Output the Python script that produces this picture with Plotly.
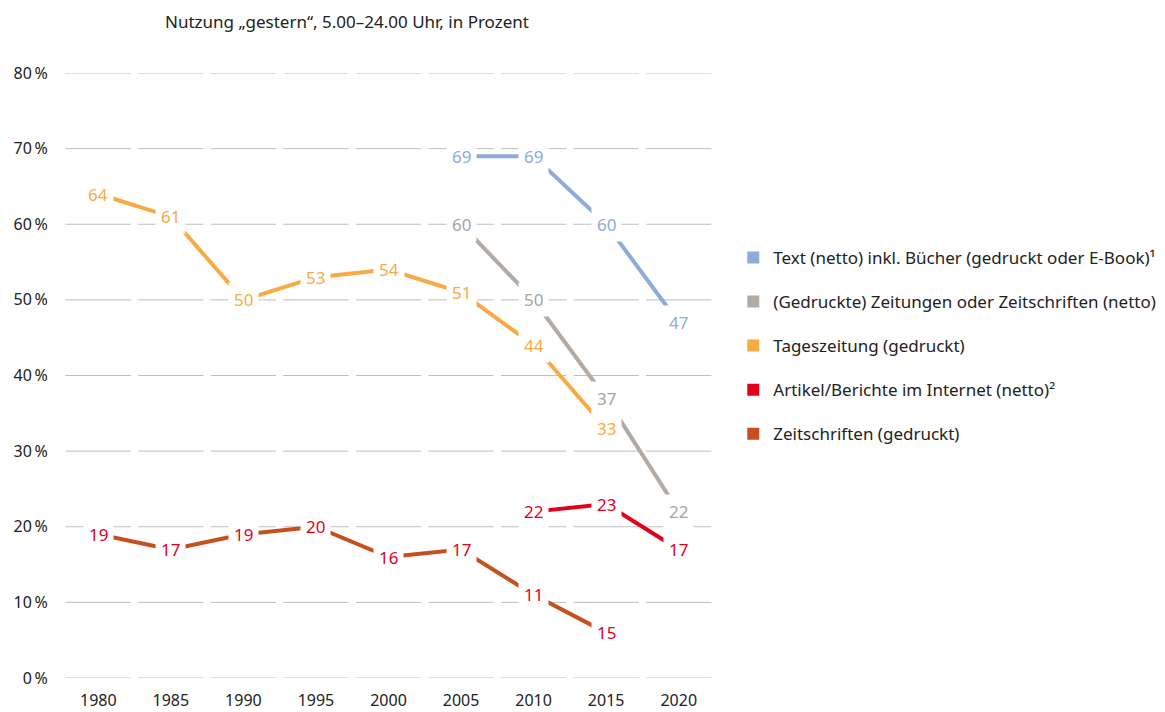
import plotly.graph_objects as go

years = ["1980", "1985", "1990", "1995", "2000", "2005", "2010", "2015", "2020"]

text_netto = [None, None, None, None, None, 69, 69, 60, 47]
zeitungen_netto = [None, None, None, None, None, 60, 50, 37, 22]
tageszeitung = [64, 61, 50, 53, 54, 51, 44, 33, None]
artikel_internet = [None, None, None, None, None, None, 22, 23, 17]
zeitschriften = [19, 17, 19, 20, 16, 17, 11, 6, None]
# printed labels (the last Zeitschriften label reads 15 in the original)
zeitschriften_labels = ["19", "17", "19", "20", "16", "17", "11", "15", None]

y_ticks = [0, 10, 20, 30, 40, 50, 60, 70, 80]

series = [
    ("Text (netto) inkl. Bücher (gedruckt oder E-Book)¹", text_netto, None, "#8DACDA", "#8DACDA"),
    ("(Gedruckte) Zeitungen oder Zeitschriften (netto)", zeitungen_netto, None, "#B3AAA3", "#A4A4A4"),
    ("Tageszeitung (gedruckt)", tageszeitung, None, "#F7AA45", "#F7AA45"),
    ("Artikel/Berichte im Internet (netto)²", artikel_internet, None, "#E2001A", "#E2001A"),
    ("Zeitschriften (gedruckt)", zeitschriften, zeitschriften_labels, "#C64F1E", "#E2001A"),
]

FONT = "Noto Sans"
W, H = 1157, 704  # page body keeps an 8px margin
fig = go.Figure()
xs = list(range(len(years)))

for name, vals, labels, color, lcolor in series:
    fig.add_trace(go.Scatter(x=xs, y=vals, mode="lines", showlegend=False,
                             line=dict(color=color, width=4), hoverinfo="skip"))
    fig.add_trace(go.Scatter(x=[None], y=[None], mode="markers", name=name,
                             legendgroup=name,
                             marker=dict(symbol="square", size=16, color=color)))
    for i, v in enumerate(vals):
        if v is None:
            continue
        txt = labels[i] if labels else str(v)
        fig.add_annotation(x=i, y=v, text=txt, showarrow=False, bgcolor="white",
                           borderpad=5, font=dict(family=FONT, size=17, color=lcolor))

# segmented gridlines, broken at every category boundary
for t in y_ticks:
    for i in xs:
        fig.add_shape(type="line", layer="below", xref="x", yref="y",
                      x0=i - 0.45, x1=i + 0.45, y0=t, y1=t,
                      line=dict(color="#BEBEBE", width=1))

fig.update_layout(
    width=W, height=H,
    paper_bgcolor="white", plot_bgcolor="white",
    margin=dict(l=54, r=450, t=65, b=34, autoexpand=False),
    font=dict(family=FONT, size=16, color="#222222"),
    title=dict(text="Nutzung „gestern“, 5.00–24.00 Uhr, in Prozent",
               x=157 / W, xanchor="left", xref="container",
               y=1 - 14 / H, yanchor="middle", yref="container",
               font=dict(family=FONT, size=17, color="#222222")),
    xaxis=dict(range=[-0.5, 8.5], tickvals=xs, ticktext=years, showgrid=False,
               zeroline=False, showline=False, ticks="outside", ticklen=8,
               tickcolor="rgba(0,0,0,0)", tickfont=dict(size=16), automargin=False),
    yaxis=dict(range=[0, 80], tickvals=y_ticks,
               ticktext=[f"{t}\u202f%" for t in y_ticks], showgrid=False,
               zeroline=False, showline=False, ticks="outside", ticklen=10,
               tickcolor="rgba(0,0,0,0)", tickfont=dict(size=16), automargin=False),
    legend=dict(x=1.028, xanchor="left", y=0.549, yanchor="middle",
                font=dict(family=FONT, size=17, color="#222222"),
                tracegroupgap=19, itemsizing="constant", bgcolor="rgba(0,0,0,0)"),
    showlegend=True,
)

fig.write_html("out.html")
